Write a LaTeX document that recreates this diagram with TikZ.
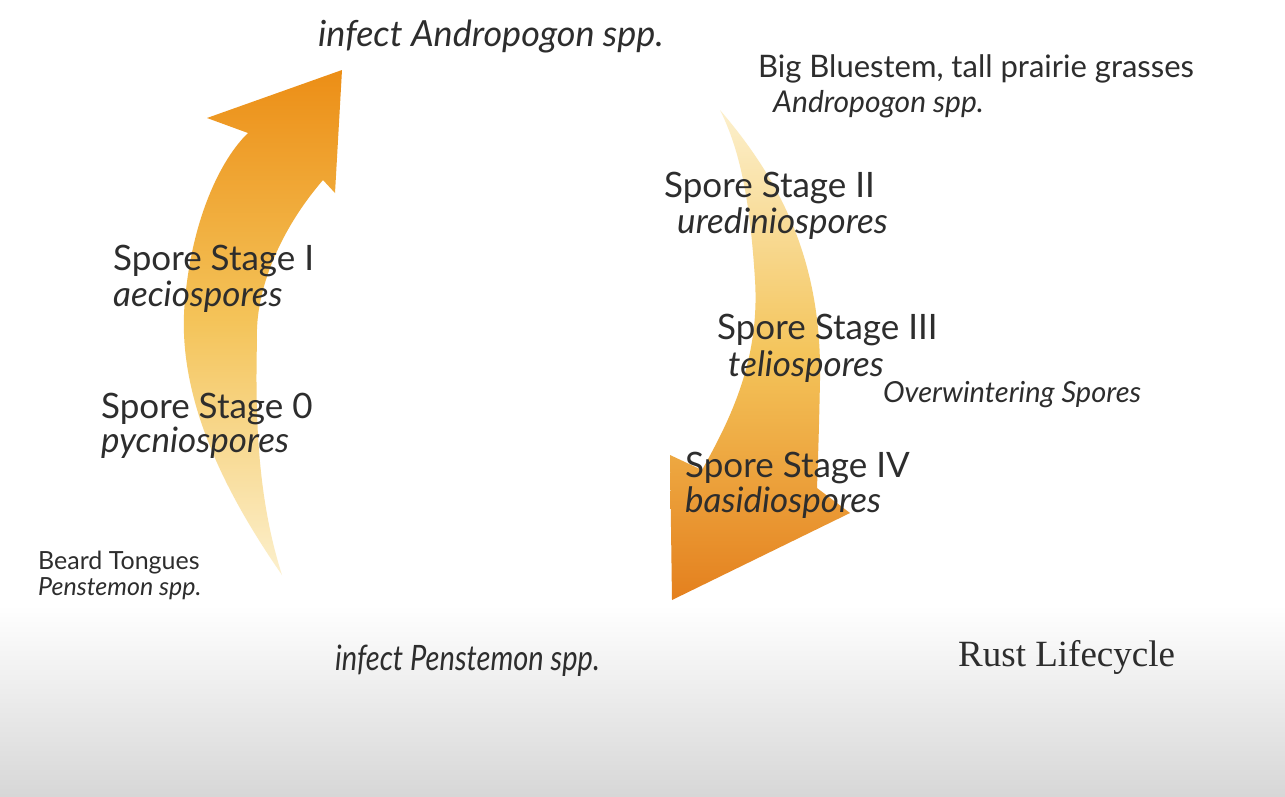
\documentclass[tikz,border=0pt]{standalone}
\usepackage{fontspec}
\setmainfont{Lato}
\newfontfamily\serifrm{Liberation Serif}
\definecolor{txt}{RGB}{45,45,45}
\definecolor{orangeA}{RGB}{236,142,22}
\definecolor{orangeB}{RGB}{228,128,30}
\definecolor{midY}{RGB}{244,196,90}
\definecolor{paleY}{RGB}{252,240,205}
\definecolor{greyB}{RGB}{215,215,215}
\tikzset{
  lbl/.style={anchor=base west, inner sep=0pt, text=txt},
  big/.style={lbl, font=\fontsize{35}{37}\selectfont},
  bigit/.style={lbl, font=\fontsize{35}{37}\selectfont\itshape},
  small/.style={lbl, font=\fontsize{29}{31}\selectfont},
  smallit/.style={lbl, font=\fontsize{29}{31}\selectfont\itshape},
}
\begin{document}
\begin{tikzpicture}[x=1pt,y=-1pt]
\useasboundingbox (0,0) rectangle (1285,796);
% background
\fill[white] (0,0) rectangle (1285,796);
\shade[top color=white, bottom color=greyB] (0,605) rectangle (1285,796);
% left arrow (upward)
\shade[top color=orangeA, bottom color=paleY, middle color=midY]
  (282,575) .. controls (230,500) and (175,400) .. (185,300)
  .. controls (192,220) and (220,160) .. (248,133)
  -- (207,118) -- (342,70) -- (335,193) -- (323,180)
  .. controls (280,230) and (255,290) .. (257,340)
  .. controls (255,420) and (258,500) .. (282,575) -- cycle;
% right arrow (downward)
\shade[top color=paleY, bottom color=orangeB, middle color=midY]
  (720,110) .. controls (780,180) and (822,260) .. (820,380)
  .. controls (819,430) and (818,460) .. (817,488)
  -- (850,513) -- (672,600) -- (670,455) -- (702,470)
  .. controls (730,420) and (760,360) .. (755,280)
  .. controls (750,200) and (740,150) .. (720,110) -- cycle;
% texts
\node[bigit, font=\fontsize{36}{38}\selectfont\itshape] (infA) at (318,46) {infect Andropogon spp.};
\node[small, font=\fontsize{31}{33}\selectfont] (bb) at (758,77) {Big Bluestem, tall prairie grasses};
\node[smallit, font=\fontsize{30}{32}\selectfont\itshape] (andr) at (773,112) {Andropogon spp.};
\node[big] (s2) at (664,197) {Spore Stage II};
\node[bigit] (s2b) at (677,233) {urediniospores};
\node[big] (s1) at (113,270) {Spore Stage I};
\node[bigit] (s1b) at (113,306) {aeciospores};
\node[big] (s3) at (717,339) {Spore Stage III};
\node[bigit] (s3b) at (728,376) {teliospores};
\node[smallit] (ow) at (883,402) {Overwintering Spores};
\node[big] (s0) at (101,418) {Spore Stage 0};
\node[bigit] (s0b) at (101,452) {pycniospores};
\node[big] (s4) at (685,477) {Spore Stage IV};
\node[bigit] (s4b) at (685,512) {basidiospores};
\node[small, font=\fontsize{25}{27}\selectfont] (bt) at (38,569) {Beard Tongues};
\node[smallit, font=\fontsize{25}{27}\selectfont\itshape] (pen) at (38,595) {Penstemon spp.};
\node[bigit, xscale=0.83] (infP) at (335,670) {infect Penstemon spp.};
\node[lbl, font=\fontsize{37}{39}\selectfont\serifrm] (rl) at (958,666) {Rust Lifecycle};
\end{tikzpicture}
\end{document}
